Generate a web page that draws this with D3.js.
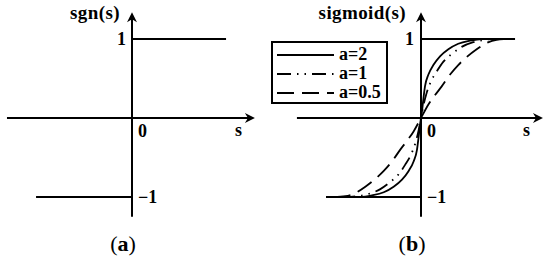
<!DOCTYPE html>
<html>
<head>
<meta charset="utf-8">
<script src="https://cdn.jsdelivr.net/npm/d3@7"></script>
<style>
  body { margin: 0; background: #fff; }
  svg text {
    font-family: "Liberation Serif", "Times New Roman", serif;
    font-weight: bold;
    font-size: 18px;
    fill: #000;
  }
  svg text.title { font-size: 19px; letter-spacing: 0.4px; }
  svg text.legend-label { font-size: 18px; }
  svg text.caption { font-weight: normal; font-size: 22px; }
</style>
</head>
<body>
<svg id="chart" width="550" height="263"></svg>
<script>
// values (s in plot units, v in output units)
const sgnNegative = [[-5.05, -1], [0, -1]];
const sgnPositive = [[0, 1], [4.95, 1]];
const sigmoidLimits = [[[-5, -1], [0, -1]], [[0, 1], [4.95, 1]]];

const curveA2 = [
  [-4.2, -1], [-3.2, -1], [-2.58, -0.98], [-1.96, -0.94], [-1.44, -0.87], [-1.0, -0.78],
  [-0.65, -0.67], [-0.39, -0.55], [-0.21, -0.4], [-0.12, -0.23], [-0.05, -0.08], [0, 0],
  [0.05, 0.08], [0.12, 0.23], [0.21, 0.4], [0.39, 0.55], [0.65, 0.67], [1.0, 0.78],
  [1.44, 0.87], [1.96, 0.94], [2.58, 0.98], [3.2, 1], [4.2, 1],
];
const curveA1 = [
  [-4.2, -1], [-3.98, -1], [-3.37, -0.99], [-2.75, -0.96], [-2.14, -0.9], [-1.62, -0.81],
  [-1.17, -0.71], [-0.83, -0.59], [-0.56, -0.48], [-0.3, -0.32], [-0.12, -0.15], [0, 0],
  [0.12, 0.15], [0.3, 0.32], [0.56, 0.48], [0.83, 0.59], [1.17, 0.71], [1.62, 0.81],
  [2.14, 0.9], [2.75, 0.96], [3.37, 0.99], [3.98, 1], [4.2, 1],
];
const curveA05 = [
  [-4.6, -1], [-3.98, -0.99], [-3.46, -0.95], [-2.93, -0.87], [-2.4, -0.77], [-1.96, -0.67],
  [-1.53, -0.55], [-1.09, -0.4], [-0.74, -0.29], [-0.39, -0.17], [0, 0],
  [0.39, 0.17], [0.74, 0.29], [1.09, 0.4], [1.53, 0.55], [1.96, 0.67], [2.4, 0.77],
  [2.93, 0.87], [3.46, 0.95], [3.98, 0.99], [4.5, 1],
];

const seriesLabels = ["a=2", "a=1", "a=0.5"];
const seriesData = [curveA2, curveA1, curveA05];
const seriesDash = [null, "14 6 1.5 6 1.5 6", "17 8"];

const tickLabels = [
  { v: 1, text: "1" },
  { v: 0, text: "0" },
  { v: -1, text: "\u22121" },
];

const panels = [
  { id: "a", origin: 132, title: "sgn(s)", axisS: [-6.58, 6.47], titleGap: 12, oneGap: 6 },
  { id: "b", origin: 421, title: "sigmoid(s)", axisS: [-6.53, 6.42], titleGap: 15, oneGap: 7 },
];

const svg = d3.select("#chart");
const y = d3.scaleLinear().domain([-1, 1]).range([197, 39]);
const axisV = [1.34, -1.25];

function drawPanel(panel) {
  const x = d3.scaleLinear().domain([-5, 5]).range([panel.origin - 95, panel.origin + 95]);
  const g = svg.append("g").attr("class", `panel-${panel.id}`);

  const xEnd = x(panel.axisS[1]);
  const yTop = y(axisV[0]);

  // axes
  g.append("line")
    .attr("x1", x(panel.axisS[0])).attr("x2", xEnd - 6)
    .attr("y1", y(0)).attr("y2", y(0))
    .attr("stroke", "#000").attr("stroke-width", 2);
  g.append("line")
    .attr("x1", x(0)).attr("x2", x(0))
    .attr("y1", yTop + 6).attr("y2", y(axisV[1]))
    .attr("stroke", "#000").attr("stroke-width", 2);

  // arrow heads
  g.append("path")
    .attr("d", `M${xEnd},${y(0)} L${xEnd - 10},${y(0) - 5} L${xEnd - 7},${y(0)} L${xEnd - 10},${y(0) + 5}Z`)
    .attr("fill", "#000");
  g.append("path")
    .attr("d", `M${x(0)},${yTop} L${x(0) - 5},${yTop + 10} L${x(0)},${yTop + 7} L${x(0) + 5},${yTop + 10}Z`)
    .attr("fill", "#000");

  // labels
  g.append("text")
    .attr("class", "title")
    .attr("x", x(0) - panel.titleGap).attr("y", 19)
    .attr("text-anchor", "end")
    .text(panel.title);
  g.append("text")
    .attr("x", xEnd - 20).attr("y", 136)
    .text("s");

  g.selectAll("text.tick")
    .data(tickLabels)
    .join("text")
    .attr("class", "tick")
    .attr("text-anchor", (d) => (d.v === 1 ? "end" : "start"))
    .attr("x", (d) => (d.v === 1 ? x(0) - panel.oneGap : x(0) + 6))
    .attr("y", (d) => (d.v === 1 ? y(1) + 6 : d.v === 0 ? y(0) + 19 : y(-1) + 6))
    .text((d) => d.text);

  const caption = g.append("text")
    .attr("class", "caption")
    .attr("x", x(0) - 9).attr("y", 251)
    .attr("text-anchor", "middle");
  caption.append("tspan").text("(");
  caption.append("tspan").attr("font-weight", "bold").text(panel.id);
  caption.append("tspan").text(")");

  return { g, x };
}

const line = (x) => d3.line().x((d) => x(d[0])).y((d) => y(d[1]));

// (a) sign function
const pa = drawPanel(panels[0]);
pa.g.selectAll("path.step")
  .data([sgnNegative, sgnPositive])
  .join("path")
  .attr("class", "step")
  .attr("d", line(pa.x))
  .attr("fill", "none")
  .attr("stroke", "#000")
  .attr("stroke-width", 2);

// (b) sigmoid curves
const pb = drawPanel(panels[1]);
pb.g.selectAll("path.limit")
  .data(sigmoidLimits)
  .join("path")
  .attr("class", "limit")
  .attr("d", line(pb.x))
  .attr("fill", "none")
  .attr("stroke", "#000")
  .attr("stroke-width", 2);

pb.g.selectAll("path.curve")
  .data(seriesData)
  .join("path")
  .attr("class", "curve")
  .attr("d", line(pb.x).curve(d3.curveMonotoneX))
  .attr("fill", "none")
  .attr("stroke", "#000")
  .attr("stroke-width", 1.8)
  .attr("stroke-dasharray", (d, i) => seriesDash[i]);

// legend
const legend = svg.append("g").attr("class", "legend");
legend.append("rect")
  .attr("x", 272).attr("y", 42)
  .attr("width", 115).attr("height", 61)
  .attr("fill", "#fff")
  .attr("stroke", "#000")
  .attr("stroke-width", 2);

const rows = legend.selectAll("g.row")
  .data(seriesLabels)
  .join("g")
  .attr("class", "row")
  .attr("transform", (d, i) => `translate(0,${55 + i * 19})`);

rows.append("line")
  .attr("x1", 277).attr("x2", 334)
  .attr("stroke", "#000")
  .attr("stroke-width", 1.8)
  .attr("stroke-dasharray", (d, i) => seriesDash[i]);

rows.append("text")
  .attr("class", "legend-label")
  .attr("x", 339).attr("y", 5)
  .text((d) => d);
</script>
</body>
</html>
